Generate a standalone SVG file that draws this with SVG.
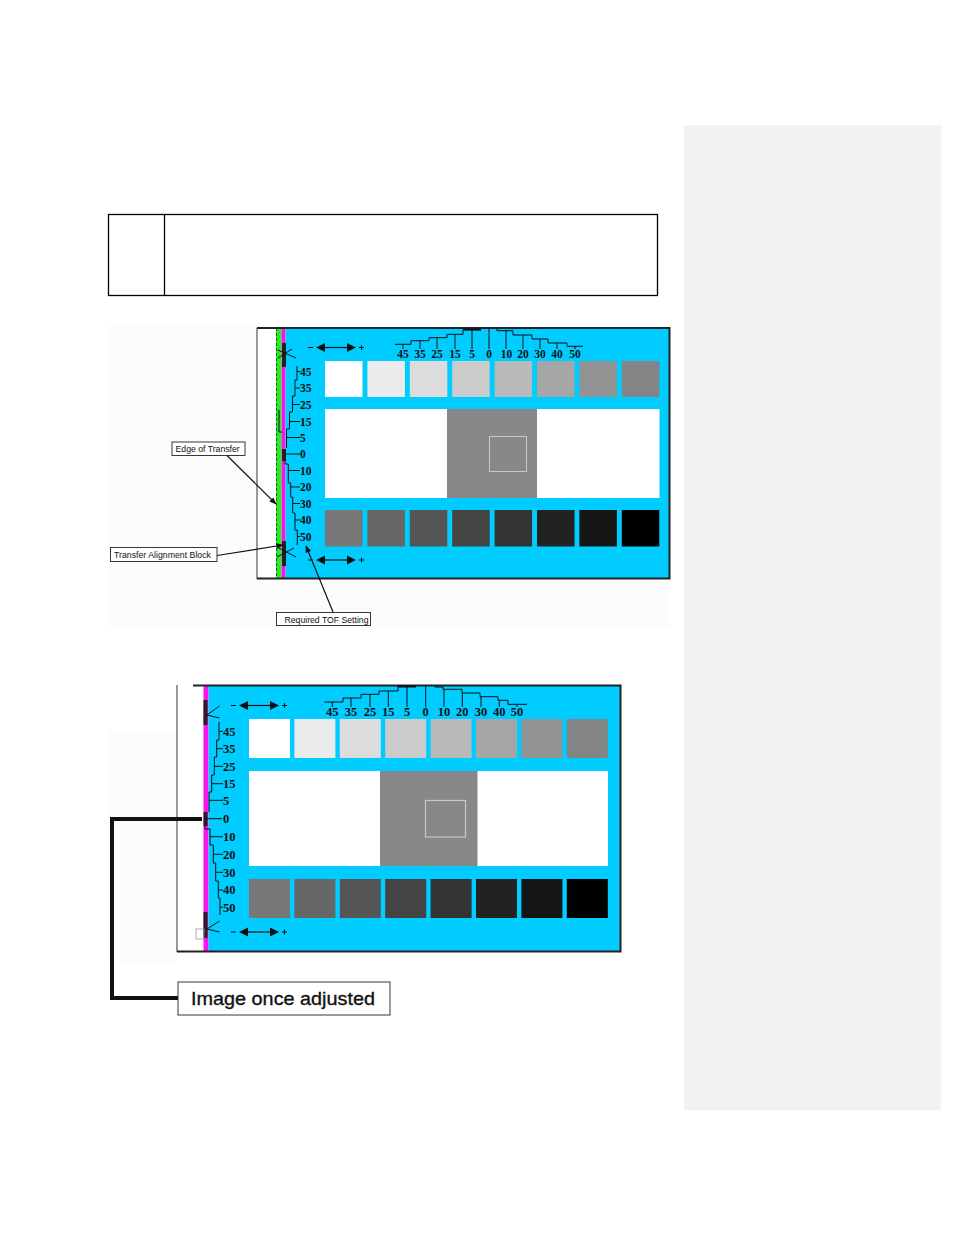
<svg xmlns="http://www.w3.org/2000/svg" width="954" height="1235" viewBox="0 0 954 1235">
<style>
.bg{fill:#ffffff}
.panel{fill:#f2f2f2}
.tbl{fill:none;stroke:#000;stroke-width:1.3}
.cyan{fill:#00ccff}
.mag{fill:#ff10f0}
.grn{fill:#22ee22}
.blk{fill:#222}
.frame{fill:none;stroke:#222;stroke-width:2}
.thin{fill:none;stroke:#333;stroke-width:1}
.rule{fill:none;stroke:#111;stroke-width:1}
.sc{font-family:"Liberation Serif","DejaVu Serif",serif;font-weight:bold;fill:#111}
.s1{font-size:11.5px}
.s2{font-size:12.5px}
.lbl{font-family:"Liberation Sans",Arial,sans-serif;font-size:8.7px;fill:#111}
.lbox{fill:#fff;stroke:#222;stroke-width:0.9}
.callout{fill:none;stroke:#111;stroke-width:1.2}
.big{font-family:"Liberation Sans",Arial,sans-serif;font-size:19px;fill:#111;stroke:#111;stroke-width:0.35}
</style>
<defs>
<marker id="ah" viewBox="0 0 10 10" refX="9" refY="5" markerWidth="6" markerHeight="6" orient="auto">
<path d="M0,1 L10,5 L0,9 z" fill="#111"/>
</marker>
<g id="dbl">
<line x1="0" y1="0" x2="5" y2="0" stroke="#111" stroke-width="1"/>
<polygon points="8,0 17,-4.5 17,4.5" fill="#111"/>
<line x1="16" y1="0" x2="40" y2="0" stroke="#111" stroke-width="1.2"/>
<polygon points="48,0 39,-4.5 39,4.5" fill="#111"/>
<line x1="51" y1="0" x2="56" y2="0" stroke="#111" stroke-width="1"/>
<line x1="53.5" y1="-2.5" x2="53.5" y2="2.5" stroke="#111" stroke-width="1"/>
</g>
</defs>
<rect class="bg" x="0" y="0" width="954" height="1235"/>
<rect id="side-panel" class="panel" x="684" y="125" width="257" height="985"/>

<g id="table">
<rect class="tbl" x="108.5" y="214.5" width="549" height="81"/>
<line class="tbl" x1="164.5" y1="214.5" x2="164.5" y2="295.5"/>
</g>

<!-- TOP FIGURE -->
<g id="figure-top">
<rect x="108" y="325" width="562" height="303" fill="#fcfcfc"/>
<rect x="257" y="328" width="20" height="250" fill="#fff"/>
<line class="thin" x1="257" y1="328" x2="257" y2="579"/>
<rect class="grn" x="276" y="328" width="5.5" height="250"/>
<line x1="276.5" y1="328" x2="276.5" y2="578" stroke="#225522" stroke-width="1" stroke-dasharray="3,2"/>
<rect class="mag" x="281.5" y="328" width="4" height="250"/>
<rect class="cyan" x="285.5" y="328" width="384" height="250"/>
<path class="frame" d="M257,328 H669.5 V578.5 H257"/>
<path class="rule" d="M279,410 V432 H282"/>
<rect class="blk" x="282" y="343" width="4" height="24"/>
<rect class="blk" x="282" y="449" width="4" height="12"/>
<rect class="blk" x="282" y="541" width="4" height="25"/>
<path class="rule" d="M278,350 L296,358 M278,358 L292,349"/>
<path class="rule" d="M277,547 L296,557 M277,557 L294,548"/>

<g id="top-light">
<rect x="325" y="361" width="37.5" height="36" fill="#ffffff"/>
<rect x="367.4" y="361" width="37.5" height="36" fill="#ebebeb"/>
<rect x="409.8" y="361" width="37.5" height="36" fill="#dcdcdc"/>
<rect x="452.2" y="361" width="37.5" height="36" fill="#cbcbcb"/>
<rect x="494.6" y="361" width="37.5" height="36" fill="#b9b9b9"/>
<rect x="537" y="361" width="37.5" height="36" fill="#a6a6a6"/>
<rect x="579.4" y="361" width="37.5" height="36" fill="#939393"/>
<rect x="621.8" y="361" width="37.5" height="36" fill="#848484"/>
</g>
<rect x="325" y="409" width="334.5" height="89" fill="#ffffff"/>
<rect x="447" y="409" width="90" height="89" fill="#888888"/>
<rect x="489.5" y="436.5" width="37" height="35" fill="none" stroke="#c8c8c8" stroke-width="1"/>
<g id="top-dark">
<rect x="325" y="510" width="37.5" height="36.5" fill="#777777"/>
<rect x="367.4" y="510" width="37.5" height="36.5" fill="#666666"/>
<rect x="409.8" y="510" width="37.5" height="36.5" fill="#555555"/>
<rect x="452.2" y="510" width="37.5" height="36.5" fill="#444444"/>
<rect x="494.6" y="510" width="37.5" height="36.5" fill="#333333"/>
<rect x="537" y="510" width="37.5" height="36.5" fill="#222222"/>
<rect x="579.4" y="510" width="37.5" height="36.5" fill="#151515"/>
<rect x="621.8" y="510" width="37.5" height="36.5" fill="#000000"/>
</g>

<use href="#dbl" x="308" y="347.5"/>
<use href="#dbl" x="308" y="560"/>

<g id="top-hruler">
<path class="rule" d="M395,344.3 H411 V340.7 H429 V337.7 H447 V334.3 H463 V329.7 H481"/>
<line x1="463" y1="329.5" x2="481" y2="329.5" stroke="#111" stroke-width="2"/>
<path class="rule" d="M497,329 V330.7 H513 V335 H532 V339 H548 V343 H567 V346.3 H583"/>
<path class="rule" d="M403,344.3 V349 M420,340.7 V349 M437,337.7 V349 M455,334.3 V349 M472,329.7 V349 M489,329 V349 M506,330.7 V349 M523,335 V349 M540,339 V349 M557,343 V349 M575,346.3 V349"/>
<g class="sc s1" text-anchor="middle">
<text x="403" y="357.5">45</text><text x="420" y="357.5">35</text><text x="437" y="357.5">25</text><text x="455" y="357.5">15</text><text x="472" y="357.5">5</text><text x="489" y="357.5">0</text><text x="506.5" y="357.5">10</text><text x="523" y="357.5">20</text><text x="540" y="357.5">30</text><text x="557" y="357.5">40</text><text x="575" y="357.5">50</text>
</g>
</g>

<g id="top-vruler">
<path class="rule" d="M297,366 V380 H295 V396 H292.5 V412 H289.5 V429 H286.5 V448"/>
<path class="rule" d="M285,460 V464 H288.3 V483 H290.7 V497 H292.7 V513 H295 V530 H297.3 V545"/>
<path class="rule" d="M297,371.5 H300 M295,388 H300 M292.5,404.5 H300 M289.5,421.5 H300 M286.5,437.5 H300 M285,454 H300 M288.3,470.5 H300 M290.7,487 H300 M292.7,503.5 H300 M295,520 H300 M297.3,536.5 H300"/>
<g class="sc s1">
<text x="300" y="375.5">45</text><text x="300" y="392">35</text><text x="300" y="408.5">25</text><text x="300" y="425.5">15</text><text x="300" y="441.5">5</text><text x="300" y="458">0</text><text x="300" y="474.5">10</text><text x="300" y="491">20</text><text x="300" y="507.5">30</text><text x="300" y="524">40</text><text x="300" y="540.5">50</text>
</g>
</g>
</g>

<g id="label-edge">
<rect class="lbox" x="172" y="442" width="73" height="13.5"/>
<text class="lbl" x="175.5" y="452">Edge of Transfer</text>
</g>
<g id="label-tab">
<rect class="lbox" x="110.5" y="547.5" width="106.5" height="14"/>
<text class="lbl" x="114" y="558" textLength="97" lengthAdjust="spacingAndGlyphs">Transfer Alignment Block</text>
</g>
<g id="label-tof">
<rect class="lbox" x="276.5" y="612.5" width="94" height="13"/>
<text class="lbl" x="284.5" y="622.5" textLength="84" lengthAdjust="spacingAndGlyphs">Required TOF Setting</text>
</g>

<!-- BOTTOM FIGURE -->
<g id="figure-bottom">
<rect x="108" y="730" width="70" height="232" fill="#fcfcfc"/>
<rect x="177" y="685" width="27" height="267" fill="#fff"/>
<line class="thin" x1="177" y1="685" x2="177" y2="952"/>
<rect class="mag" x="203.5" y="686" width="5" height="265"/>
<rect class="cyan" x="208.5" y="686" width="412" height="265"/>
<path class="frame" d="M193,685.5 H620.5 V951.5 H177"/>
<rect class="blk" x="203.5" y="700" width="4" height="25"/>
<rect class="blk" x="203.5" y="812" width="4" height="14"/>
<rect class="blk" x="203.5" y="912" width="4" height="26"/>
<path class="rule" d="M207,715 L219.5,706 M207,715 L219.5,718"/>
<path class="rule" d="M207,929 L219.5,921 M207,929 L219.5,932"/>
<rect x="196" y="929" width="8" height="10" fill="none" stroke="#999" stroke-width="0.8"/>

<g id="bot-light">
<rect x="249" y="719" width="41" height="39" fill="#ffffff"/>
<rect x="294.4" y="719" width="41" height="39" fill="#ebebeb"/>
<rect x="339.8" y="719" width="41" height="39" fill="#dcdcdc"/>
<rect x="385.2" y="719" width="41" height="39" fill="#cbcbcb"/>
<rect x="430.6" y="719" width="41" height="39" fill="#b9b9b9"/>
<rect x="476" y="719" width="41" height="39" fill="#a6a6a6"/>
<rect x="521.4" y="719" width="41" height="39" fill="#939393"/>
<rect x="566.8" y="719" width="41" height="39" fill="#848484"/>
</g>
<rect x="249" y="771" width="359" height="95" fill="#ffffff"/>
<rect x="380" y="771" width="97.5" height="95" fill="#888888"/>
<rect x="425.5" y="800.5" width="40" height="36.5" fill="none" stroke="#c8c8c8" stroke-width="1.2"/>
<g id="bot-dark">
<rect x="249" y="879" width="41" height="39" fill="#777777"/>
<rect x="294.4" y="879" width="41" height="39" fill="#666666"/>
<rect x="339.8" y="879" width="41" height="39" fill="#555555"/>
<rect x="385.2" y="879" width="41" height="39" fill="#444444"/>
<rect x="430.6" y="879" width="41" height="39" fill="#333333"/>
<rect x="476" y="879" width="41" height="39" fill="#222222"/>
<rect x="521.4" y="879" width="41" height="39" fill="#151515"/>
<rect x="566.8" y="879" width="41" height="39" fill="#000000"/>
</g>

<use href="#dbl" x="231" y="705.5"/>
<use href="#dbl" x="231" y="932"/>

<g id="bot-hruler">
<path class="rule" d="M324.3,702 H343 V698 H361 V694.3 H379 V691 H398 V686.3 H416"/>
<line x1="398" y1="686.5" x2="416" y2="686.5" stroke="#111" stroke-width="2"/>
<path class="rule" d="M435,686 V687 H443 V689.3 H462 V693 H480 V696.7 H498 V700.3 H508 V704.3 H527"/>
<path class="rule" d="M332.3,702 V707 M351,698 V707 M370,694.3 V707 M388.3,691 V707 M407,686.3 V707 M425.7,686 V707 M444,689.3 V707 M462.3,693 V707 M481,696.7 V707 M499.3,700.3 V707 M517,704.3 V707"/>
<g class="sc s2" text-anchor="middle">
<text x="332.3" y="715.5">45</text><text x="351" y="715.5">35</text><text x="370" y="715.5">25</text><text x="388.3" y="715.5">15</text><text x="407" y="715.5">5</text><text x="425.7" y="715.5">0</text><text x="444" y="715.5">10</text><text x="462.3" y="715.5">20</text><text x="481" y="715.5">30</text><text x="499.3" y="715.5">40</text><text x="517" y="715.5">50</text>
</g>
</g>

<g id="bot-vruler">
<path class="rule" d="M219,722 V740 H216.7 V757 H214.3 V775 H211.7 V792 H209 V812"/>
<path class="rule" d="M205,826 V829 H210 V845 H213.3 V863 H215.7 V881 H218.3 V898 H220 V915"/>
<path class="rule" d="M219,731.3 H223 M216.7,748.7 H223 M214.3,766.3 H223 M211.7,783.7 H223 M209,800.3 H223 M205,818.7 H222 M210,836.7 H223 M213.3,854.3 H223 M215.7,872.3 H223 M218.3,890 H223 M220,907.3 H223"/>
<g class="sc s2">
<text x="223" y="735.5">45</text><text x="223" y="753">35</text><text x="223" y="770.5">25</text><text x="223" y="788">15</text><text x="223" y="804.5">5</text><text x="223" y="823">0</text><text x="223" y="841">10</text><text x="223" y="858.5">20</text><text x="223" y="876.5">30</text><text x="223" y="894">40</text><text x="223" y="911.5">50</text>
</g>
</g>
</g>

<g id="label-adjusted">
<rect class="lbox" x="178" y="982" width="212" height="33"/>
<text class="big" x="191" y="1004.5" textLength="184" lengthAdjust="spacingAndGlyphs">Image once adjusted</text>
</g>

<g id="connectors">
<line class="callout" x1="227" y1="455.5" x2="276" y2="504" marker-end="url(#ah)"/>
<line class="callout" x1="217" y1="555.5" x2="283" y2="545" marker-end="url(#ah)"/>
<line class="callout" x1="333" y1="612" x2="306" y2="546" marker-end="url(#ah)"/>
<path d="M202,819 H112 V998 H178" fill="none" stroke="#111" stroke-width="4"/>
</g>
</svg>
